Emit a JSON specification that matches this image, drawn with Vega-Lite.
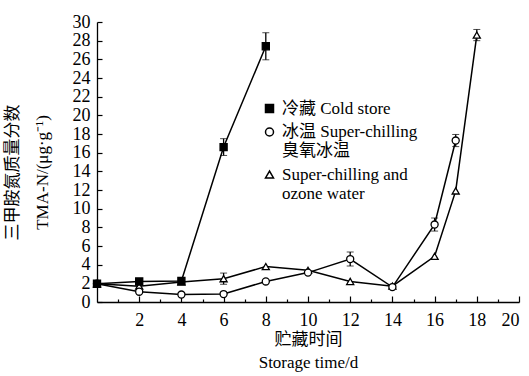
{
  "$schema": "https://vega.github.io/schema/vega-lite/v6.json",
  "width": 422,
  "height": 280,
  "autosize": "none",
  "padding": {"left": 97, "top": 22, "right": 10, "bottom": 74},
  "background": "white",
  "config": {
    "view": {"stroke": null},
    "font": "Liberation Serif, Noto Sans CJK SC",
    "axis": {"grid": false, "domainColor": "black", "domainWidth": 1.3, "tickColor": "black", "tickWidth": 1.2, "labelColor": "black", "titleColor": "black", "labelFont": "Liberation Serif", "labelFontSize": 18, "titleFont": "Liberation Serif, Noto Sans CJK SC", "titleFontSize": 17, "titleFontWeight": "normal"}
  },
  "data": {"values": [
    {"series": "臭氧冰温 Super-chilling and ozone water", "day": 0, "value": 1.95},
    {"series": "臭氧冰温 Super-chilling and ozone water", "day": 2, "value": 1.7},
    {"series": "臭氧冰温 Super-chilling and ozone water", "day": 4, "value": 2.15},
    {"series": "臭氧冰温 Super-chilling and ozone water", "day": 6, "value": 2.5, "err": 0.6},
    {"series": "臭氧冰温 Super-chilling and ozone water", "day": 8, "value": 3.8},
    {"series": "臭氧冰温 Super-chilling and ozone water", "day": 10, "value": 3.4},
    {"series": "臭氧冰温 Super-chilling and ozone water", "day": 12, "value": 2.2},
    {"series": "臭氧冰温 Super-chilling and ozone water", "day": 14, "value": 1.7},
    {"series": "臭氧冰温 Super-chilling and ozone water", "day": 16, "value": 4.9},
    {"series": "臭氧冰温 Super-chilling and ozone water", "day": 17, "value": 11.9},
    {"series": "臭氧冰温 Super-chilling and ozone water", "day": 18, "value": 28.6, "err": 0.6},
    {"series": "冰温 Super-chilling", "day": 0, "value": 1.95},
    {"series": "冰温 Super-chilling", "day": 2, "value": 1.1},
    {"series": "冰温 Super-chilling", "day": 4, "value": 0.8},
    {"series": "冰温 Super-chilling", "day": 6, "value": 0.85},
    {"series": "冰温 Super-chilling", "day": 8, "value": 2.2},
    {"series": "冰温 Super-chilling", "day": 10, "value": 3.15},
    {"series": "冰温 Super-chilling", "day": 12, "value": 4.6, "err": 0.75},
    {"series": "冰温 Super-chilling", "day": 14, "value": 1.6},
    {"series": "冰温 Super-chilling", "day": 16, "value": 8.3, "err": 0.7},
    {"series": "冰温 Super-chilling", "day": 17, "value": 17.3, "err": 0.65},
    {"series": "冷藏 Cold store", "day": 0, "value": 1.95},
    {"series": "冷藏 Cold store", "day": 2, "value": 2.2, "err": 0.3},
    {"series": "冷藏 Cold store", "day": 4, "value": 2.25},
    {"series": "冷藏 Cold store", "day": 6, "value": 16.6, "err": 0.9},
    {"series": "冷藏 Cold store", "day": 8, "value": 27.4, "err": 1.45}
  ]},
  "encoding": {
    "x": {"field": "day", "type": "quantitative", "scale": {"domain": [0, 20], "nice": false},
      "axis": {"values": [1,2,3,4,5,6,7,8,9,10,11,12,13,14,15,16,17,18,19,20],
        "labelExpr": "datum.value % 2 === 0 ? datum.label : ''",
        "tickSize": {"condition": {"test": "datum.value % 2 === 1", "value": -3}, "value": -6},
        "labelPadding": 15,
        "title": ["贮藏时间", "Storage time/d"], "titleLineHeight": 23, "titleBaseline": "top", "titleY": 29}},
    "y": {"field": "value", "type": "quantitative", "scale": {"domain": [0, 30], "nice": false},
      "axis": {"values": [0,2,4,6,8,10,12,14,16,18,20,22,24,26,28,30], "tickSize": -5, "labelPadding": 12,
        "title": ["三甲胺氮质量分数", "TMA-N/(μg·g⁻¹)"], "titleAngle": -90, "titleBaseline": "top", "titleLineHeight": 30, "titleX": -93, "titleY": 150, "titleAlign": "center"}}
  },
  "layer": [
    {
      "mark": {"type": "line", "color": "black", "strokeWidth": 1.5},
      "encoding": {"detail": {"field": "series"}}
    },
    {
      "transform": [{"filter": "datum.err > 0"}],
      "mark": {"type": "errorbar", "color": "black", "ticks": {"size": 7, "color": "black", "strokeWidth": 1.3}, "rule": {"strokeWidth": 1.3}},
      "encoding": {
        "yError": {"field": "err"},
        "detail": {"field": "series"}
      }
    },
    {
      "mark": {"type": "point", "color": "black", "stroke": "black", "strokeWidth": 1.3, "opacity": 1, "size": 50},
      "encoding": {
        "shape": {"field": "series", "type": "nominal",
          "scale": {"domain": ["冷藏 Cold store", "冰温 Super-chilling", "臭氧冰温 Super-chilling and ozone water"], "range": ["square", "circle", "triangle-up"]},
          "legend": {"orient": "none", "legendX": 164, "legendY": 78, "title": null, "padding": 0,
            "symbolSize": 64,
            "labelFont": "Liberation Serif, Noto Sans CJK SC", "labelFontSize": 17, "labelColor": "black", "labelLimit": 300, "labelOffset": 4, "rowPadding": 5.5, "labelBaseline": "middle", "labelLineHeight": 21,
            "labelExpr": "datum.label === '臭氧冰温 Super-chilling and ozone water' ? ['Super-chilling and', 'ozone water'] : datum.label === '冰温 Super-chilling' ? ['冰温 Super-chilling', '臭氧冰温'] : datum.label",
            "encode": {"symbols": {
              "fill": {"value": {"expr": "datum.value === '冷藏 Cold store' ? 'black' : 'white'"}},
              "stroke": {"value": "black"},
              "strokeWidth": {"value": 1.3},
              "opacity": {"value": 1}
            }}
          }},
        "fill": {"field": "series", "type": "nominal",
          "scale": {"domain": ["冷藏 Cold store", "冰温 Super-chilling", "臭氧冰温 Super-chilling and ozone water"], "range": ["black", "white", "white"]},
          "legend": null}
      }
    }
  ]
}
